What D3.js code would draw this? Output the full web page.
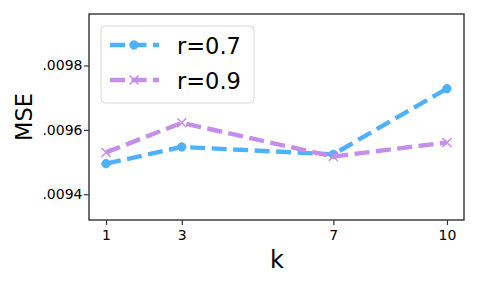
<!DOCTYPE html>
<html>
<head>
<meta charset="utf-8">
<script src="https://cdn.jsdelivr.net/npm/d3@7"></script>
<style>
  body { margin: 0; background: #fff; }
  text { font-family: "DejaVu Sans", sans-serif; }
</style>
</head>
<body>
<svg id="chart" width="478" height="287"></svg>
<script>
// data
var kValues = [1, 3, 7, 10];
var seriesNames = ["r=0.7", "r=0.9"];
var mseR07 = [0.009495, 0.009547, 0.009524, 0.009728];
var mseR09 = [0.009530, 0.009622, 0.009517, 0.009561];
var yTicks = [0.0094, 0.0096, 0.0098];

var colors = ["#4db2fb", "#c48eea"];
var series = [
  {name: seriesNames[0], values: mseR07, marker: "circle"},
  {name: seriesNames[1], values: mseR09, marker: "cross"}
];

var svg = d3.select("#chart");
var plotLeft = 89, plotTop = 14, plotRight = 464, plotBottom = 220;

var x = d3.scaleLinear().domain([0.55, 10.45]).range([plotLeft, plotRight]);
var y = d3.scaleLinear().domain([0.00932, 0.00996]).range([plotBottom, plotTop]);

// axes
var xAxis = d3.axisBottom(x).tickValues(kValues).tickSize(5).tickPadding(5.5);
var yAxis = d3.axisLeft(y).tickValues(yTicks).tickSize(5).tickPadding(1.5)
  .tickFormat(function(d) { return d3.format(".4f")(d).replace(/^0/, ""); });

svg.append("rect")
  .attr("x", plotLeft).attr("y", plotTop)
  .attr("width", plotRight - plotLeft).attr("height", plotBottom - plotTop)
  .attr("fill", "none").attr("stroke", "#222").attr("stroke-width", 1.3);

var gx = svg.append("g").attr("transform", "translate(0," + plotBottom + ")").call(xAxis);
var gy = svg.append("g").attr("transform", "translate(" + plotLeft + ",0)").call(yAxis);
[gx, gy].forEach(function(g) {
  g.attr("font-size", 14).attr("font-family", "DejaVu Sans");
  g.select(".domain").remove();
  g.selectAll(".tick line").attr("stroke", "#333").attr("stroke-width", 1.2);
  g.selectAll(".tick text").attr("fill", "#000");
});

svg.append("text")
  .attr("x", 277).attr("y", 268)
  .attr("text-anchor", "middle")
  .attr("font-size", 24)
  .text("k");

svg.append("text")
  .attr("transform", "translate(32," + ((plotTop + plotBottom) / 2) + ") rotate(-90)")
  .attr("text-anchor", "middle")
  .attr("font-size", 22.5)
  .text("MSE");

var line = d3.line()
  .x(function(d, i) { return x(kValues[i]); })
  .y(function(d) { return y(d); });

function drawMarker(g, type, color, cx, cy) {
  if (type === "circle") {
    g.append("circle").attr("cx", cx).attr("cy", cy).attr("r", 4.2)
      .attr("fill", color).attr("stroke", color).attr("stroke-width", 1);
  } else {
    var s = 4.5;
    g.append("path")
      .attr("d", "M" + (cx - s) + "," + (cy - s) + "L" + (cx + s) + "," + (cy + s) +
                 "M" + (cx - s) + "," + (cy + s) + "L" + (cx + s) + "," + (cy - s))
      .attr("stroke", color).attr("stroke-width", 1.5).attr("fill", "none");
  }
}

series.forEach(function(s, si) {
  var g = svg.append("g");
  g.append("path")
    .datum(s.values)
    .attr("d", line)
    .attr("fill", "none")
    .attr("stroke", colors[si])
    .attr("stroke-width", 4.4)
    .attr("stroke-dasharray", "15,6.5");
  s.values.forEach(function(v, i) {
    drawMarker(g, s.marker, colors[si], x(kValues[i]), y(v));
  });
});

// legend
var lg = svg.append("g");
lg.append("rect")
  .attr("x", 101).attr("y", 26).attr("width", 153).attr("height", 77)
  .attr("rx", 4).attr("fill", "#fff").attr("fill-opacity", 0.8)
  .attr("stroke", "#d8d8d8").attr("stroke-width", 1);

series.forEach(function(s, si) {
  var cy = 45 + si * 35;
  lg.append("line")
    .attr("x1", 110).attr("x2", 159).attr("y1", cy).attr("y2", cy)
    .attr("stroke", colors[si]).attr("stroke-width", 4.4)
    .attr("stroke-dasharray", "15,6.5");
  drawMarker(lg, s.marker, colors[si], 134, cy);
  lg.append("text")
    .attr("x", 177).attr("y", cy + 9)
    .attr("font-size", 22.5)
    .text(s.name);
});
</script>
</body>
</html>
